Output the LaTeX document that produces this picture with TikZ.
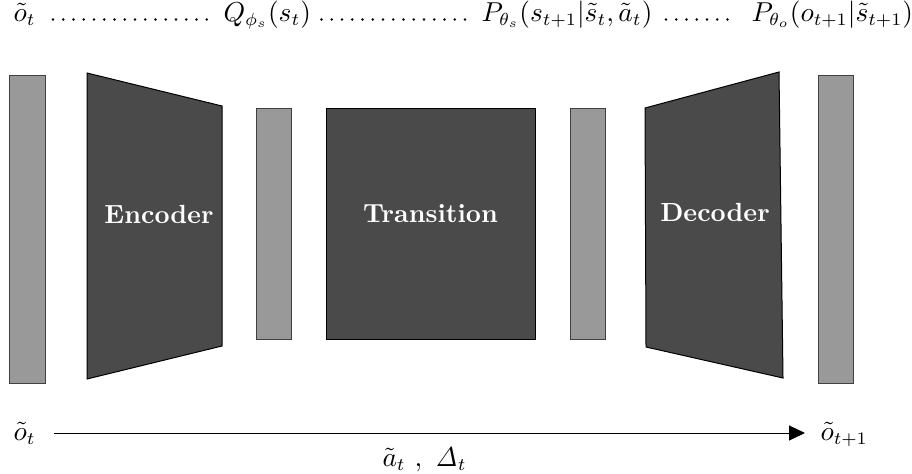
\documentclass[tikz,border=0pt]{standalone}
\usepackage{amsmath,amssymb}
\usepackage{xcolor}
\usetikzlibrary{arrows.meta}

\begin{document}
\begin{tikzpicture}[x=0.4pt,y=-0.4pt,
  every node/.style={font=\fontsize{10.5pt}{12.6pt}\selectfont},
  txt/.style={inner sep=0pt,anchor=base west},
  bar/.style={draw=black!75,fill=black!40,inner sep=0pt,minimum width=14pt},
  blk/.style={draw=black,fill=black!71},
  lbl/.style={text=white,font=\fontsize{10.5pt}{12.6pt}\selectfont\bfseries},
  dots/.style={line width=1.1pt,line cap=round,dash pattern=on 0pt off 4.1pt},
  flow/.style={-{Triangle[length=6.4pt,width=6pt]},thin}]
 \useasboundingbox (0,0) rectangle (912,473);
 % top line: the distributions
 \node[txt] (ot) at (13,21)  {$\tilde{o}_t$};
 \node[txt] (Q)  at (223,21) {$Q_{\phi_s}(s_t)$};
 \node[txt] (P1) at (481,21) {$P_{\theta_s}(s_{t+1}|\tilde{s}_t,\tilde{a}_t)$};
 \node[txt] (P2) at (751,21) {$P_{\theta_o}(o_{t+1}|\tilde{s}_{t+1})$};
 \draw[dots,shorten <=6.8pt,shorten >=4.4pt] ([yshift=0.6pt]ot.base east) -- ([yshift=0.6pt]Q.base west);
 \draw[dots,shorten <=4pt,shorten >=4.4pt] ([yshift=0.6pt]Q.base east) -- ([yshift=0.6pt]P1.base west);
 \draw[dots,shorten <=5.2pt,shorten >=8pt] ([yshift=0.6pt]P1.base east) -- ([yshift=0.6pt]P2.base west);
 % layers
 \node[bar,minimum height=122.8pt] (in)  at (27.5,229.5) {};
 \node[bar,minimum height=92.4pt]  (z1)  at (273.5,223.5) {};
 \node[bar,minimum height=92.4pt]  (z2)  at (588,223.5) {};
 \node[bar,minimum height=122.8pt] (out) at (835.5,229.5) {};
 \draw[blk] (87,73) -- (222,106) -- (222,346) -- (87,379) -- cycle;
 \node[blk,minimum width=83.6pt,minimum height=92.4pt] (tr) at (430.5,223.5) {};
 \draw[blk] (645,108) -- (779,72) -- (783,378) -- (646,347) -- cycle;
 \node[lbl] (enc) at (159,214) {Encoder};
 \node[lbl] (trl) at (430.5,214) {Transition};
 \node[lbl] (dec) at (715,212) {Decoder};
 % bottom: time step
 \node[txt] (ob)  at (13,440)  {$\tilde{o}_t$};
 \node[txt] (ob1) at (820,440) {$\tilde{o}_{t+1}$};
 \node[txt] (act) at (382,466) {$\tilde{a}_t\ ,\ \mathit{\Delta}_t$};
 \draw[flow,shorten <=7.2pt,shorten >=6pt] (ob.east |- 0,433) -- (ob1.west |- 0,433);
\end{tikzpicture}
\end{document}
